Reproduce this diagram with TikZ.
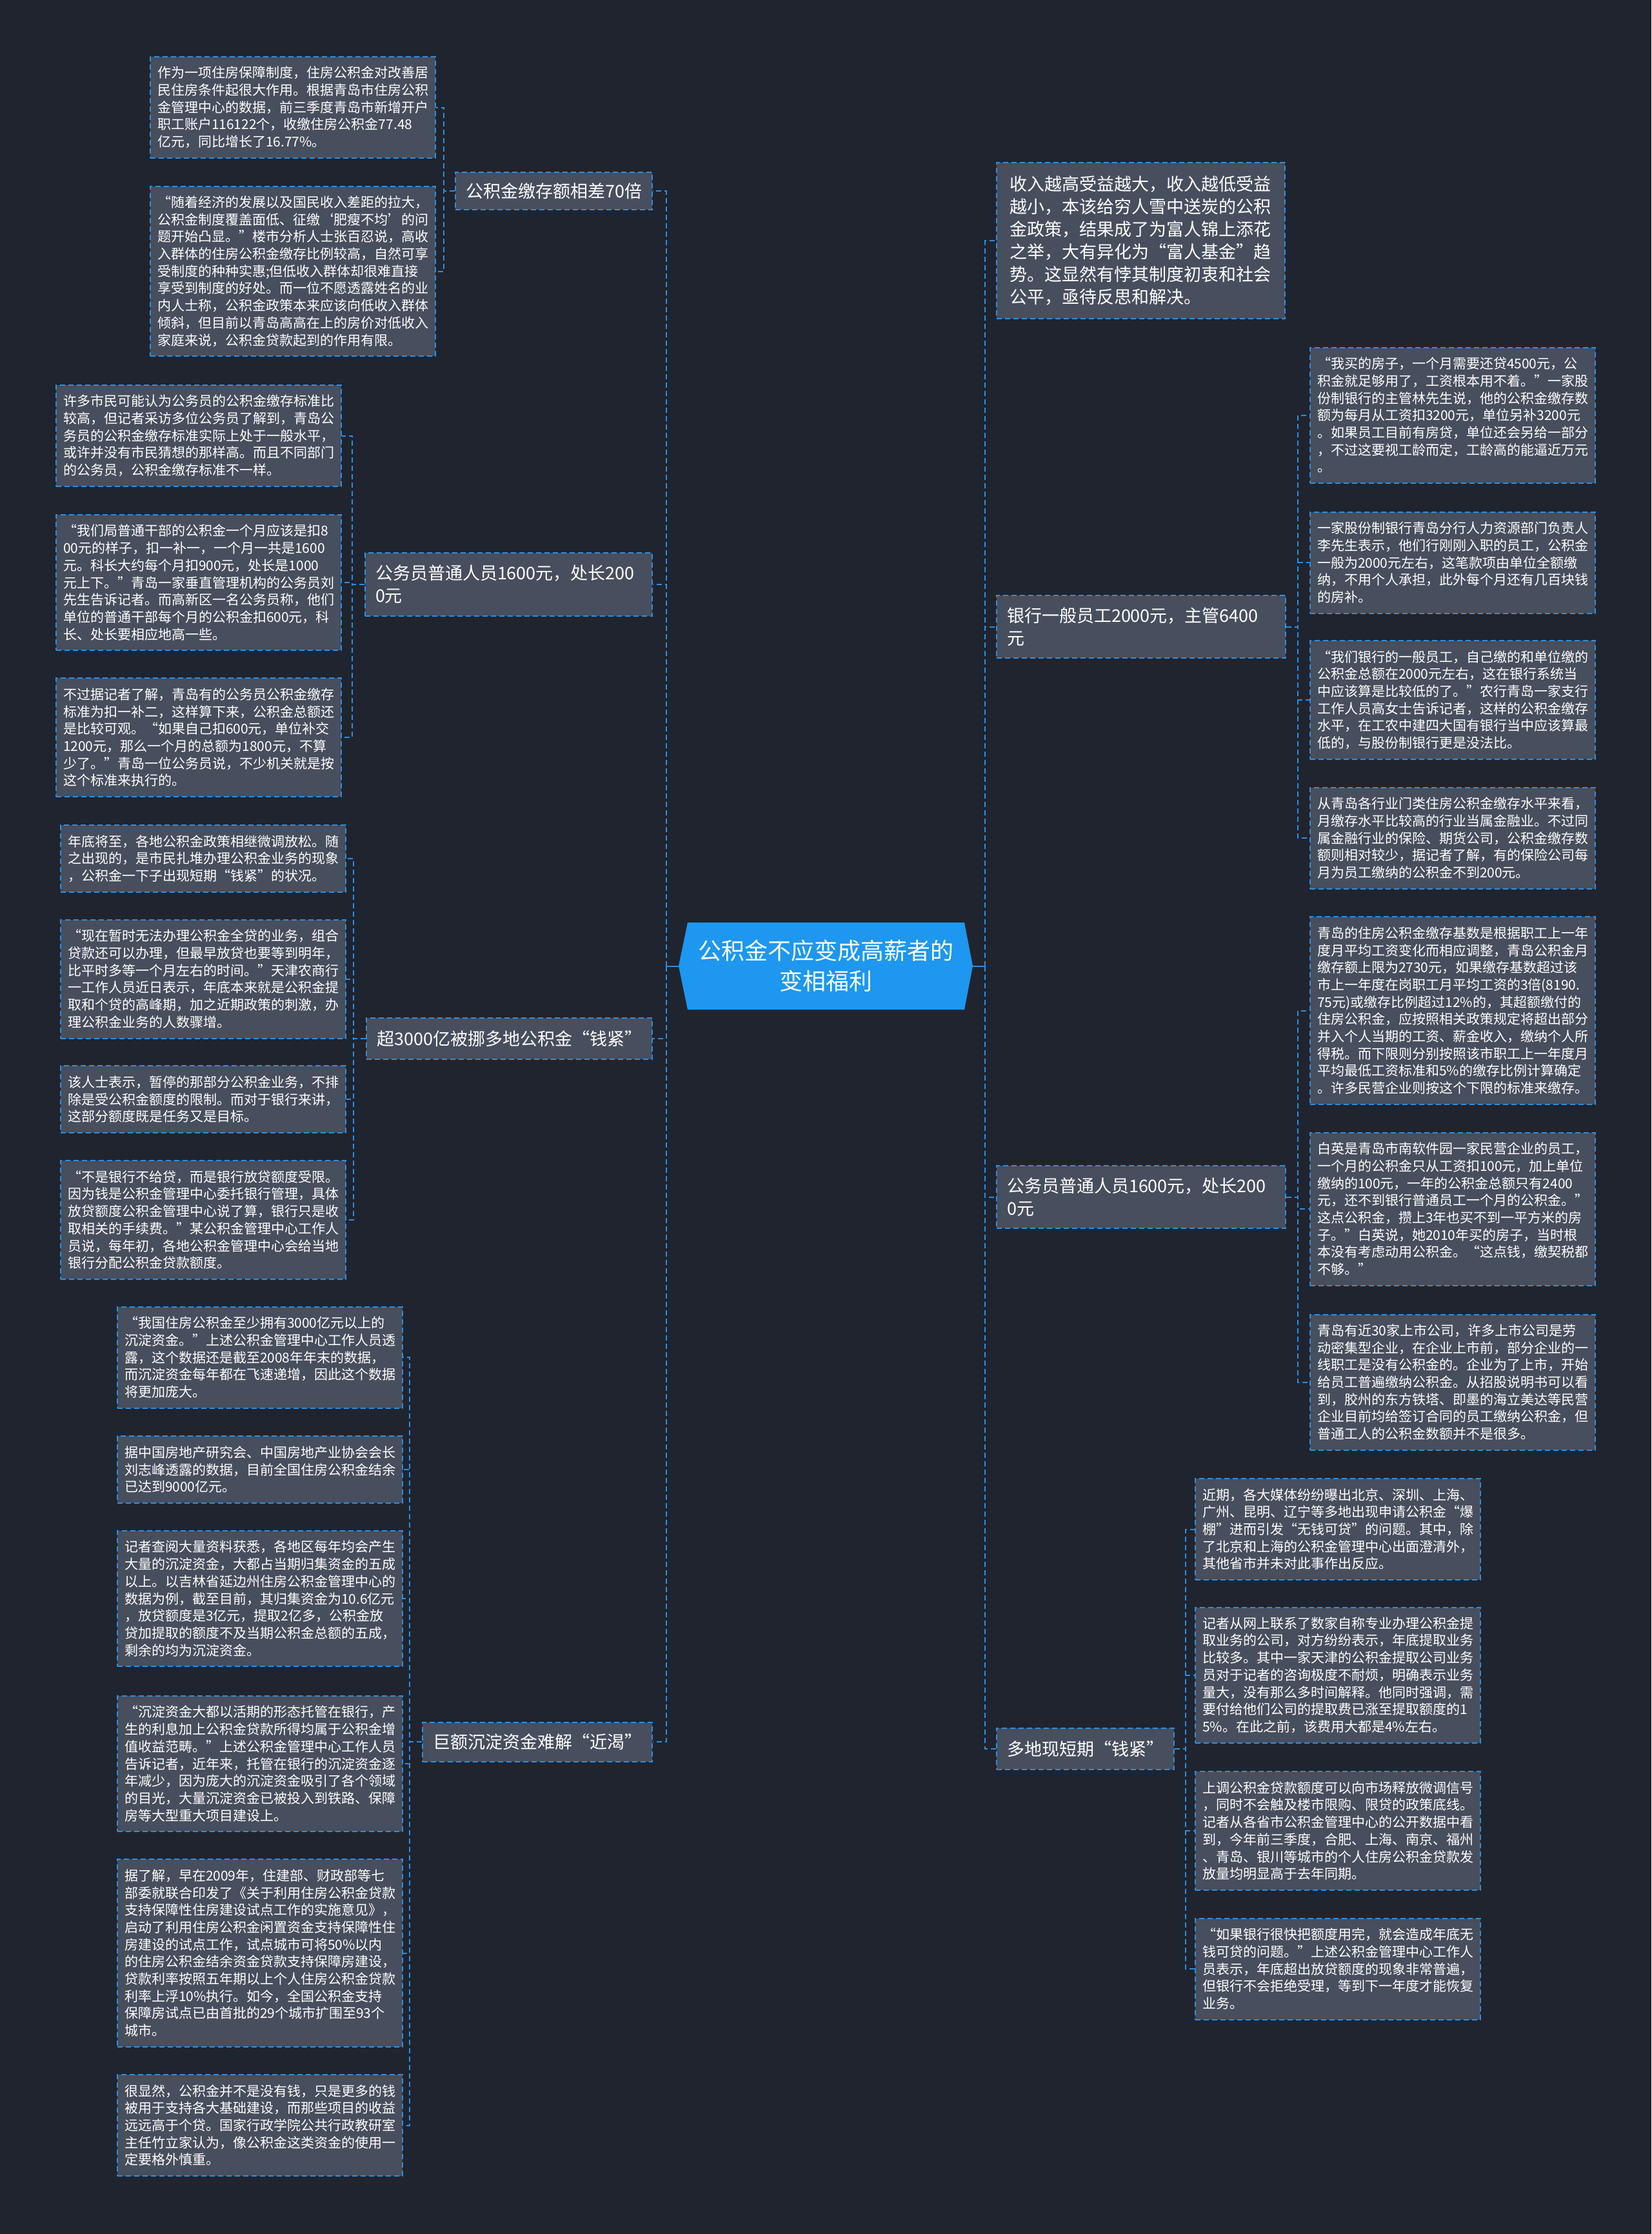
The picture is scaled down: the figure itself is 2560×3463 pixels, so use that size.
\documentclass[tikz,border=0pt]{standalone}
\usepackage{fontspec}
\setmainfont{Noto Sans CJK SC}
\definecolor{bgc}{HTML}{20242F}
\definecolor{boxc}{HTML}{474E5D}
\definecolor{linec}{HTML}{2B8FE0}
\definecolor{centc}{HTML}{1D97EF}
\begin{document}
\begin{tikzpicture}[x=0.5pt,y=-0.5pt,
 dsh/.style={dash pattern=on 4pt off 2.5pt},
 leaf/.style={draw=linec, fill=boxc, dsh, line width=1pt, text=white,
   font=\fontsize{10.5}{13.35}\selectfont, align=left, text width=210pt,
   inner xsep=5.5pt, inner ysep=0pt},
 branch/.style={draw=linec, fill=boxc, dsh, line width=1pt, text=white,
   font=\fontsize{13.5}{17.5}\selectfont, align=left, inner xsep=8pt, inner ysep=0pt},
 conn/.style={draw=linec, line width=1pt},
 dconn/.style={conn, dsh}]
\fill[bgc] (0,0) rectangle (2560,3463);
\useasboundingbox (0,0) rectangle (2560,3463);

% centre
\fill[centc] (1052,1497.5) -- (1066,1430) -- (1495,1430) -- (1508,1497.5) -- (1495,1565) -- (1066,1565) -- cycle;
\node[inner sep=0pt, minimum width=228pt, minimum height=67.5pt, text=white,
  font=\fontsize{18}{23.5}\selectfont, align=center] (C) at (1280,1497.5)
  {公积金不应变成高薪者的\\变相福利};

% left branches
\node[branch, anchor=east, minimum height=29pt] (L1) at (1012,296) {公积金缴存额相差70倍};
\node[branch, anchor=east, minimum height=49pt, text width=206.5pt] (L2) at (1012,906) {公务员普通人员1600元，处长200\\0元};
\node[branch, anchor=east, minimum height=32pt] (L3) at (1012,1610) {超3000亿被挪多地公积金“钱紧”};
\node[branch, anchor=east, minimum height=30.5pt] (L4) at (1012,2700) {巨额沉淀资金难解“近渴”};

% right branches
\node[branch, anchor=west, minimum height=121pt, text width=203pt, inner xsep=10.25pt] (R1) at (1544,373) {收入越高受益越大，收入越低受益\\越小，本该给穷人雪中送炭的公积\\金政策，结果成了为富人锦上添花\\之举，大有异化为“富人基金”趋\\势。这显然有悖其制度初衷和社会\\公平，亟待反思和解决。};
\node[branch, anchor=west, minimum height=48.5pt, text width=208pt] (R2) at (1544,971.5) {银行一般员工2000元，主管6400\\元};
\node[branch, anchor=west, minimum height=48.5pt, text width=208pt] (R3) at (1544,1855.5) {公务员普通人员1600元，处长200\\0元};
\node[branch, anchor=west, minimum height=32pt] (R4) at (1544,2711) {多地现短期“钱紧”};

% left leaves group 1
\node[leaf, anchor=east, minimum height=78.5pt] (L1a) at (676,166.5) {作为一项住房保障制度，住房公积金对改善居\\民住房条件起很大作用。根据青岛市住房公积\\金管理中心的数据，前三季度青岛市新增开户\\职工账户116122个，收缴住房公积金77.48\\亿元，同比增长了16.77\%。};
\node[leaf, anchor=east, minimum height=131.5pt] (L1b) at (676,420.5) {“随着经济的发展以及国民收入差距的拉大，\\公积金制度覆盖面低、征缴‘肥瘦不均’的问\\题开始凸显。”楼市分析人士张百忍说，高收\\入群体的住房公积金缴存比例较高，自然可享\\受制度的种种实惠;但低收入群体却很难直接\\享受到制度的好处。而一位不愿透露姓名的业\\内人士称，公积金政策本来应该向低收入群体\\倾斜，但目前以青岛高高在上的房价对低收入\\家庭来说，公积金贷款起到的作用有限。};

% group 2
\node[leaf, anchor=east, minimum height=78.5pt] (L2a) at (530,675.5) {许多市民可能认为公务员的公积金缴存标准比\\较高，但记者采访多位公务员了解到，青岛公\\务员的公积金缴存标准实际上处于一般水平，\\或许并没有市民猜想的那样高。而且不同部门\\的公务员，公积金缴存标准不一样。};
\node[leaf, anchor=east, minimum height=105pt] (L2b) at (530,903) {“我们局普通干部的公积金一个月应该是扣8\\00元的样子，扣一补一，一个月一共是1600\\元。科长大约每个月扣900元，处长是1000\\元上下。”青岛一家垂直管理机构的公务员刘\\先生告诉记者。而高新区一名公务员称，他们\\单位的普通干部每个月的公积金扣600元，科\\长、处长要相应地高一些。};
\node[leaf, anchor=east, minimum height=92pt] (L2c) at (530,1143) {不过据记者了解，青岛有的公务员公积金缴存\\标准为扣一补二，这样算下来，公积金总额还\\是比较可观。“如果自己扣600元，单位补交\\1200元，那么一个月的总额为1800元，不算\\少了。”青岛一位公务员说，不少机关就是按\\这个标准来执行的。};

% group 3
\node[leaf, anchor=east, minimum height=52pt] (L3a) at (537,1331) {年底将至，各地公积金政策相继微调放松。随\\之出现的，是市民扎堆办理公积金业务的现象\\，公积金一下子出现短期“钱紧”的状况。};
\node[leaf, anchor=east, minimum height=92pt] (L3b) at (537,1517.5) {“现在暂时无法办理公积金全贷的业务，组合\\贷款还可以办理，但最早放贷也要等到明年，\\比平时多等一个月左右的时间。”天津农商行\\一工作人员近日表示，年底本来就是公积金提\\取和个贷的高峰期，加之近期政策的刺激，办\\理公积金业务的人数骤增。};
\node[leaf, anchor=east, minimum height=52pt] (L3c) at (537,1704) {该人士表示，暂停的那部分公积金业务，不排\\除是受公积金额度的限制。而对于银行来讲，\\这部分额度既是任务又是目标。};
\node[leaf, anchor=east, minimum height=92pt] (L3d) at (537,1891) {“不是银行不给贷，而是银行放贷额度受限。\\因为钱是公积金管理中心委托银行管理，具体\\放贷额度公积金管理中心说了算，银行只是收\\取相关的手续费。”某公积金管理中心工作人\\员说，每年初，各地公积金管理中心会给当地\\银行分配公积金贷款额度。};

% group 4
\node[leaf, anchor=east, minimum height=78.5pt] (L4a) at (625,2104) {“我国住房公积金至少拥有3000亿元以上的\\沉淀资金。”上述公积金管理中心工作人员透\\露，这个数据还是截至2008年年末的数据，\\而沉淀资金每年都在飞速递增，因此这个数据\\将更加庞大。};
\node[leaf, anchor=east, minimum height=52pt] (L4b) at (625,2278) {据中国房地产研究会、中国房地产业协会会长\\刘志峰透露的数据，目前全国住房公积金结余\\已达到9000亿元。};
\node[leaf, anchor=east, minimum height=105pt] (L4c) at (625,2478) {记者查阅大量资料获悉，各地区每年均会产生\\大量的沉淀资金，大都占当期归集资金的五成\\以上。以吉林省延边州住房公积金管理中心的\\数据为例，截至目前，其归集资金为10.6亿元\\，放贷额度是3亿元，提取2亿多，公积金放\\贷加提取的额度不及当期公积金总额的五成，\\剩余的均为沉淀资金。};
\node[leaf, anchor=east, minimum height=105pt] (L4d) at (625,2734) {“沉淀资金大都以活期的形态托管在银行，产\\生的利息加上公积金贷款所得均属于公积金增\\值收益范畴。”上述公积金管理中心工作人员\\告诉记者，近年来，托管在银行的沉淀资金逐\\年减少，因为庞大的沉淀资金吸引了各个领域\\的目光，大量沉淀资金已被投入到铁路、保障\\房等大型重大项目建设上。};
\node[leaf, anchor=east, minimum height=145.5pt] (L4e) at (625,3027.5) {据了解，早在2009年，住建部、财政部等七\\部委就联合印发了《关于利用住房公积金贷款\\支持保障性住房建设试点工作的实施意见》，\\启动了利用住房公积金闲置资金支持保障性住\\房建设的试点工作，试点城市可将50\%以内\\的住房公积金结余资金贷款支持保障房建设，\\贷款利率按照五年期以上个人住房公积金贷款\\利率上浮10\%执行。如今，全国公积金支持\\保障房试点已由首批的29个城市扩围至93个\\城市。};
\node[leaf, anchor=east, minimum height=78.5pt] (L4f) at (625,3294.5) {很显然，公积金并不是没有钱，只是更多的钱\\被用于支持各大基础建设，而那些项目的收益\\远远高于个贷。国家行政学院公共行政教研室\\主任竹立家认为，像公积金这类资金的使用一\\定要格外慎重。};

% right leaves R2
\node[leaf, anchor=west, minimum height=105pt] (R2a) at (2030,643.5) {“我买的房子，一个月需要还贷4500元，公\\积金就足够用了，工资根本用不着。”一家股\\份制银行的主管林先生说，他的公积金缴存数\\额为每月从工资扣3200元，单位另补3200元\\。如果员工目前有房贷，单位还会另给一部分\\，不过这要视工龄而定，工龄高的能逼近万元\\。};
\node[leaf, anchor=west, minimum height=78.5pt] (R2b) at (2030,872) {一家股份制银行青岛分行人力资源部门负责人\\李先生表示，他们行刚刚入职的员工，公积金\\一般为2000元左右，这笔款项由单位全额缴\\纳，不用个人承担，此外每个月还有几百块钱\\的房补。};
\node[leaf, anchor=west, minimum height=92pt] (R2c) at (2030,1085) {“我们银行的一般员工，自己缴的和单位缴的\\公积金总额在2000元左右，这在银行系统当\\中应该算是比较低的了。”农行青岛一家支行\\工作人员高女士告诉记者，这样的公积金缴存\\水平，在工农中建四大国有银行当中应该算最\\低的，与股份制银行更是没法比。};
\node[leaf, anchor=west, minimum height=78.5pt] (R2d) at (2030,1299) {从青岛各行业门类住房公积金缴存水平来看，\\月缴存水平比较高的行业当属金融业。不过同\\属金融行业的保险、期货公司，公积金缴存数\\额则相对较少，据记者了解，有的保险公司每\\月为员工缴纳的公积金不到200元。};

% right leaves R3
\node[leaf, anchor=west, minimum height=145.5pt] (R3a) at (2030,1566.5) {青岛的住房公积金缴存基数是根据职工上一年\\度月平均工资变化而相应调整，青岛公积金月\\缴存额上限为2730元，如果缴存基数超过该\\市上一年度在岗职工月平均工资的3倍(8190.\\75元)或缴存比例超过12\%的，其超额缴付的\\住房公积金，应按照相关政策规定将超出部分\\并入个人当期的工资、薪金收入，缴纳个人所\\得税。而下限则分别按照该市职工上一年度月\\平均最低工资标准和5\%的缴存比例计算确定\\。许多民营企业则按这个下限的标准来缴存。};
\node[leaf, anchor=west, minimum height=118.5pt] (R3b) at (2030,1874) {白英是青岛市南软件园一家民营企业的员工，\\一个月的公积金只从工资扣100元，加上单位\\缴纳的100元，一年的公积金总额只有2400\\元，还不到银行普通员工一个月的公积金。”\\这点公积金，攒上3年也买不到一平方米的房\\子。”白英说，她2010年买的房子，当时根\\本没有考虑动用公积金。“这点钱，缴契税都\\不够。”};
\node[leaf, anchor=west, minimum height=105pt] (R3c) at (2030,2142.5) {青岛有近30家上市公司，许多上市公司是劳\\动密集型企业，在企业上市前，部分企业的一\\线职工是没有公积金的。企业为了上市，开始\\给员工普遍缴纳公积金。从招股说明书可以看\\到，胶州的东方铁塔、即墨的海立美达等民营\\企业目前均给签订合同的员工缴纳公积金，但\\普通工人的公积金数额并不是很多。};

% right leaves R4
\node[leaf, anchor=west, minimum height=78.5pt] (R4a) at (1852,2370.5) {近期，各大媒体纷纷曝出北京、深圳、上海、\\广州、昆明、辽宁等多地出现申请公积金“爆\\棚”进而引发“无钱可贷”的问题。其中，除\\了北京和上海的公积金管理中心出面澄清外，\\其他省市并未对此事作出反应。};
\node[leaf, anchor=west, minimum height=105pt] (R4b) at (1852,2596.5) {记者从网上联系了数家自称专业办理公积金提\\取业务的公司，对方纷纷表示，年底提取业务\\比较多。其中一家天津的公积金提取公司业务\\员对于记者的咨询极度不耐烦，明确表示业务\\量大，没有那么多时间解释。他同时强调，需\\要付给他们公司的提取费已涨至提取额度的1\\5\%。在此之前，该费用大都是4\%左右。};
\node[leaf, anchor=west, minimum height=92pt] (R4c) at (1852,2838) {上调公积金贷款额度可以向市场释放微调信号\\，同时不会触及楼市限购、限贷的政策底线。\\记者从各省市公积金管理中心的公开数据中看\\到，今年前三季度，合肥、上海、南京、福州\\、青岛、银川等城市的个人住房公积金贷款发\\放量均明显高于去年同期。};
\node[leaf, anchor=west, minimum height=78.5pt] (R4d) at (1852,3052) {“如果银行很快把额度用完，就会造成年底无\\钱可贷的问题。”上述公积金管理中心工作人\\员表示，年底超出放贷额度的现象非常普遍，\\但银行不会拒绝受理，等到下一年度才能恢复\\业务。};

% main connectors
\draw[conn] (C.west) -- ++(-19,0) coordinate (jl);
\draw[conn] (C.east) -- ++(19,0) coordinate (jr);
\foreach \n in {L1,L2,L3,L4} \draw[dconn] (jl) |- (\n.east);
\foreach \n in {R1,R2,R3,R4} \draw[dconn] (jr) |- (\n.west);

% sub connectors
\foreach \n in {L1a,L1b} \draw[dconn] (L1.west) -- ++(-17,0) |- (\n.east);
\foreach \n in {L2a,L2b,L2c} \draw[dconn] (L2.west) -- ++(-19,0) |- (\n.east);
\foreach \n in {L3a,L3b,L3c,L3d} \draw[dconn] (L3.west) -- ++(-19,0) |- (\n.east);
\foreach \n in {L4a,L4b,L4c,L4d,L4e,L4f} \draw[dconn] (L4.west) -- ++(-19,0) |- (\n.east);
\foreach \n in {R2a,R2b,R2c,R2d} \draw[dconn] (R2.east) -- ++(18,0) |- (\n.west);
\foreach \n in {R3a,R3b,R3c} \draw[dconn] (R3.east) -- ++(18,0) |- (\n.west);
\foreach \n in {R4a,R4b,R4c,R4d} \draw[dconn] (R4.east) -- ++(17,0) |- (\n.west);
\end{tikzpicture}
\end{document}
